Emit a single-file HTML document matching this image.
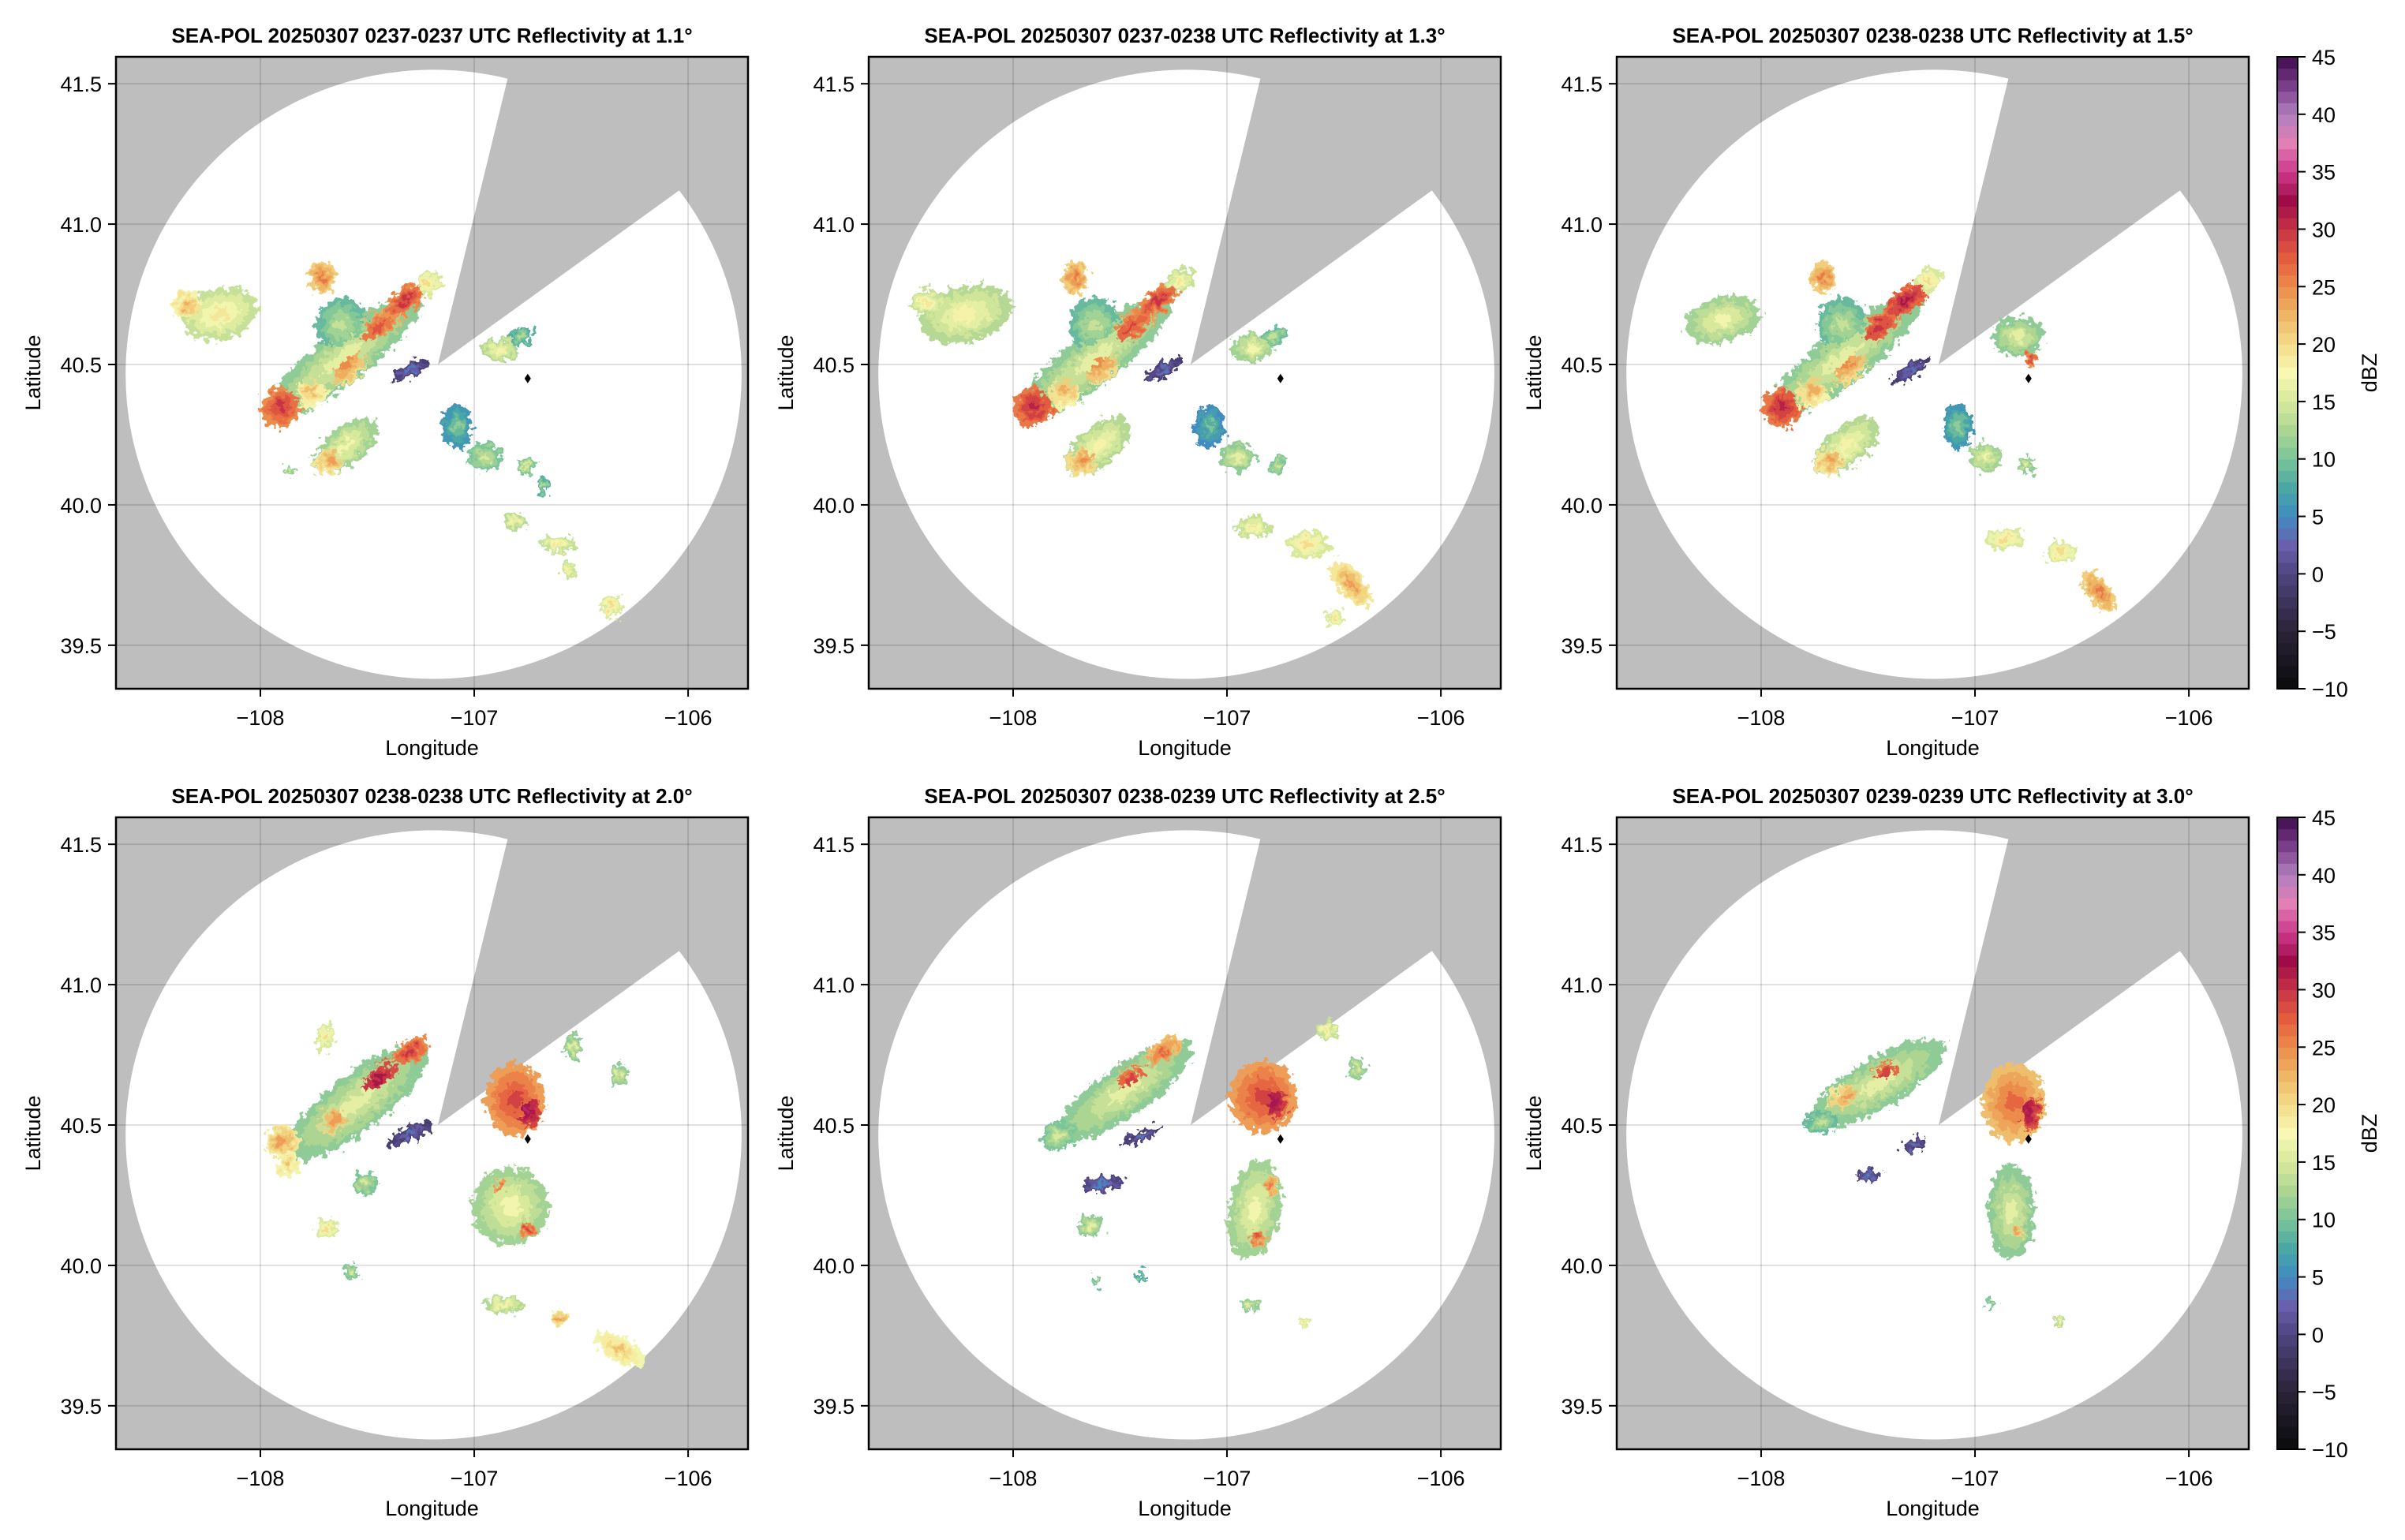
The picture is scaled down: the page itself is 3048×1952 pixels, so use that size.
<!DOCTYPE html>
<html><head><meta charset="utf-8">
<style>
html,body{margin:0;padding:0;background:#fff;}
svg{display:block;}
text{font-family:"Liberation Sans",sans-serif;fill:#000;}
</style></head>
<body>
<svg id="fig" xmlns="http://www.w3.org/2000/svg" width="3048" height="1952" viewBox="0 0 3048 1952">
<defs>
<filter id="rough" x="-30%" y="-30%" width="160%" height="160%">
<feTurbulence type="fractalNoise" baseFrequency="0.12" numOctaves="3" seed="5" result="n"/>
<feDisplacementMap in="SourceGraphic" in2="n" scale="22" xChannelSelector="R" yChannelSelector="G"/>
</filter>
</defs>
</svg>
<script>
// ---- data ----
const panelTitles = [
 "SEA-POL 20250307 0237-0237 UTC Reflectivity at 1.1°",
 "SEA-POL 20250307 0237-0238 UTC Reflectivity at 1.3°",
 "SEA-POL 20250307 0238-0238 UTC Reflectivity at 1.5°",
 "SEA-POL 20250307 0238-0238 UTC Reflectivity at 2.0°",
 "SEA-POL 20250307 0238-0239 UTC Reflectivity at 2.5°",
 "SEA-POL 20250307 0239-0239 UTC Reflectivity at 3.0°"];
const lonTicks = [-108, -107, -106];
const latTicks = [39.5, 40.0, 40.5, 41.0, 41.5];
const cbarTicks = [-10, -5, 0, 5, 10, 15, 20, 25, 30, 35, 40, 45];
const lonRange = [-108.675, -105.72];
const latRange = [39.345, 41.596];
const dbzRange = [-10, 45];
const radarCenter = [-107.19, 40.465];
const radarRadius = [1.44, 1.085];
const wedgeApex = [-107.17, 40.50];
const wedgeRay1 = [-106.84, 41.53];
const wedgeRay2 = [-106.06, 41.11];
const siteMarker = [-106.75, 40.45];
// blobs: [lon, lat, rxDeg, ryDeg, angle, dBZ]
const echoes1 = [
 [-107.62,40.52,0.46,0.09,-38,14],[-107.90,40.35,0.10,0.07,-40,28],[-107.76,40.41,0.10,0.06,-40,20],
 [-107.60,40.50,0.14,0.06,-40,23],[-107.45,40.63,0.15,0.05,-38,26],[-107.32,40.73,0.13,0.04,-35,28],
 [-107.22,40.79,0.07,0.04,-35,18],[-108.19,40.68,0.18,0.09,-15,17],[-108.34,40.71,0.07,0.05,0,21],
 [-107.71,40.81,0.06,0.06,0,24],[-107.62,40.64,0.12,0.10,0,12],[-107.30,40.48,0.10,0.025,-30,2],
 [-106.88,40.55,0.09,0.04,0,16],[-106.78,40.60,0.06,0.03,-20,11],[-107.60,40.21,0.18,0.07,-40,15],
 [-107.67,40.16,0.08,0.05,-40,22],[-107.08,40.28,0.07,0.08,0,9],[-106.95,40.17,0.08,0.05,0,13],
 [-106.76,40.14,0.04,0.03,0,13],[-106.68,40.07,0.03,0.03,0,11],[-106.81,39.94,0.05,0.03,0,16],
 [-106.61,39.86,0.08,0.03,0,17],[-106.56,39.77,0.04,0.03,0,17],[-106.36,39.64,0.05,0.04,-40,18],
 [-107.87,40.12,0.02,0.02,0,14]];
const echoes2 = [
 [-107.62,40.52,0.46,0.09,-38,14],[-107.90,40.35,0.10,0.07,-40,29],[-107.76,40.41,0.10,0.06,-40,21],
 [-107.60,40.50,0.14,0.06,-40,23],[-107.45,40.63,0.15,0.05,-38,27],[-107.32,40.73,0.13,0.04,-35,28],
 [-107.22,40.80,0.07,0.04,-35,17],[-108.22,40.68,0.22,0.10,-15,16],[-108.40,40.72,0.08,0.05,0,17],
 [-107.71,40.81,0.06,0.06,0,24],[-107.62,40.64,0.12,0.10,0,12],[-107.30,40.48,0.10,0.025,-30,2],
 [-106.88,40.56,0.10,0.05,0,15],[-106.78,40.60,0.06,0.03,-20,12],[-107.60,40.21,0.18,0.07,-40,16],
 [-107.67,40.16,0.08,0.05,-40,23],[-107.08,40.28,0.07,0.08,0,8],[-106.95,40.17,0.08,0.05,0,14],
 [-106.76,40.14,0.04,0.03,0,13],[-106.88,39.92,0.08,0.04,0,17],[-106.62,39.86,0.10,0.05,0,18],
 [-106.42,39.72,0.06,0.10,-40,22],[-106.50,39.60,0.04,0.03,0,18]];
const echoes3 = [
 [-107.62,40.52,0.46,0.09,-38,14],[-107.90,40.35,0.10,0.07,-40,29],[-107.76,40.41,0.10,0.06,-40,21],
 [-107.60,40.50,0.14,0.06,-40,23],[-107.45,40.63,0.15,0.05,-38,28],[-107.32,40.73,0.13,0.04,-35,30],
 [-107.22,40.80,0.07,0.04,-35,18],[-108.18,40.66,0.18,0.08,-15,15],[-107.71,40.81,0.06,0.06,0,24],
 [-107.62,40.64,0.12,0.10,0,12],[-107.30,40.48,0.10,0.025,-30,2],[-106.80,40.60,0.12,0.07,0,14],
 [-106.74,40.52,0.03,0.03,0,28],[-107.60,40.21,0.18,0.07,-40,16],[-107.67,40.16,0.08,0.05,-40,22],
 [-107.08,40.28,0.07,0.08,0,9],[-106.95,40.17,0.08,0.05,0,15],[-106.76,40.14,0.04,0.03,0,14],
 [-106.86,39.88,0.09,0.04,0,18],[-106.60,39.83,0.07,0.04,0,18],[-106.42,39.69,0.05,0.09,-40,24]];
const echoes4 = [
 [-107.55,40.58,0.42,0.10,-38,14],[-107.45,40.66,0.15,0.05,-38,30],[-107.30,40.76,0.10,0.04,-35,28],
 [-107.65,40.52,0.12,0.06,-40,22],[-107.90,40.44,0.08,0.06,-40,22],[-107.30,40.47,0.12,0.025,-25,2],
 [-107.51,40.29,0.06,0.04,0,13],[-107.69,40.13,0.05,0.04,0,18],[-107.57,39.98,0.04,0.03,0,13],
 [-107.87,40.36,0.05,0.05,0,20],[-107.70,40.81,0.04,0.05,0,18],[-106.81,40.59,0.14,0.13,0,27],
 [-106.75,40.55,0.06,0.06,0,32],[-106.83,40.21,0.18,0.14,0,15],[-106.75,40.13,0.04,0.03,0,27],
 [-106.88,40.28,0.03,0.03,0,25],[-106.54,40.78,0.04,0.05,0,14],[-106.32,40.68,0.04,0.04,0,14],
 [-106.86,39.86,0.10,0.03,0,16],[-106.60,39.81,0.04,0.03,0,22],[-106.32,39.70,0.06,0.10,-60,20]];
const echoes5 = [
 [-107.48,40.62,0.38,0.09,-35,14],[-107.45,40.66,0.12,0.05,-38,27],[-107.30,40.76,0.10,0.04,-35,25],
 [-107.79,40.46,0.08,0.05,-20,13],[-107.58,40.29,0.10,0.025,-10,3],[-107.40,40.46,0.10,0.02,-20,2],
 [-106.83,40.60,0.16,0.13,0,27],[-106.78,40.58,0.07,0.07,0,31],[-106.53,40.84,0.05,0.04,0,17],
 [-106.39,40.70,0.04,0.04,0,14],[-106.87,40.20,0.12,0.18,10,15],[-106.86,40.10,0.05,0.03,0,26],
 [-106.80,40.28,0.04,0.04,0,24],[-107.61,39.94,0.02,0.02,0,12],[-107.40,39.96,0.02,0.02,0,10],
 [-106.89,39.86,0.05,0.02,0,14],[-106.64,39.80,0.03,0.02,0,18],[-107.64,40.14,0.06,0.04,0,14]];
const echoes6 = [
 [-107.45,40.65,0.36,0.09,-30,14],[-107.42,40.68,0.12,0.05,-30,27],[-107.60,40.60,0.10,0.05,-30,22],
 [-107.72,40.51,0.08,0.04,0,12],[-107.50,40.32,0.06,0.02,0,3],[-107.29,40.43,0.06,0.02,-20,2],
 [-106.82,40.58,0.15,0.14,0,25],[-106.75,40.55,0.06,0.07,0,31],[-106.83,40.19,0.11,0.17,0,14],
 [-106.80,40.12,0.04,0.03,0,22],[-106.93,39.86,0.02,0.02,0,12],[-106.60,39.79,0.02,0.02,0,16]];
const allEchoes = [echoes1, echoes2, echoes3, echoes4, echoes5, echoes6];

// ---- layout ----
const NS = "http://www.w3.org/2000/svg";
const svg = document.getElementById('fig');
const colX = [147, 1101, 2049], rowY = [72, 1036];
const PW = 801, PH = 801;
const cmapStops = [[-10,'#0a0a0c'],[-5,'#2b2338'],[0,'#4f4580'],[2.5,'#6a5fad'],[5,'#3f8cc1'],[7.5,'#4aa7a4'],
 [10,'#7ac59a'],[12.5,'#acd592'],[15,'#d8e99b'],[17.5,'#f8f8b2'],[20,'#f3dc8a'],[22.5,'#eeb665'],
 [25,'#ec8c4c'],[27.5,'#e35c3e'],[30,'#c73347'],[32.5,'#9e0b48'],[35,'#cc3a8b'],[37.5,'#e27fb4'],
 [40,'#b07fbe'],[42.5,'#7a3d8c'],[45,'#3e0c4c']];
function hex2rgb(h){return [1,3,5].map(i=>parseInt(h.substr(i,2),16));}
function cmap(v){
  v=Math.max(dbzRange[0],Math.min(dbzRange[1],v));
  for(let i=0;i<cmapStops.length-1;i++){
    const [a,ca]=cmapStops[i],[b,cb]=cmapStops[i+1];
    if(v<=b){const t=(v-a)/(b-a),A=hex2rgb(ca),B=hex2rgb(cb);
      return 'rgb('+A.map((x,k)=>Math.round(x+(B[k]-x)*t)).join(',')+')';}
  }
  return cmapStops[cmapStops.length-1][1];
}
function mk(tag, attrs, parent){const e=document.createElementNS(NS,tag);for(const k in attrs)e.setAttribute(k,attrs[k]);(parent||svg).appendChild(e);return e;}

allEchoes.forEach((echoes, p) => {
  const x0 = colX[p%3], y0 = rowY[Math.floor(p/3)];
  const sx = lon => x0 + (lon-lonRange[0])/(lonRange[1]-lonRange[0])*PW;
  const sy = lat => y0 + (latRange[1]-lat)/(latRange[1]-latRange[0])*PH;
  const kx = PW/(lonRange[1]-lonRange[0]), ky = PH/(latRange[1]-latRange[0]);
  const g = mk('g', {});
  
  
  const cid = 'clip'+p;
  const cp = mk('clipPath',{id:cid}, g); mk('rect',{x:x0,y:y0,width:PW,height:PH},cp);
  const plot = mk('g',{'clip-path':'url(#'+cid+')'}, g);
  const bg = mk('rect',{x:x0,y:y0,width:PW,height:PH,fill:'#bebebe'},plot);
  
  
  const circ = mk('ellipse',{cx:sx(radarCenter[0]),cy:sy(radarCenter[1]),rx:radarRadius[0]*kx,ry:radarRadius[1]*ky,fill:'#fff'},plot);
  
  
  const ax=sx(wedgeApex[0]), ay=sy(wedgeApex[1]);
  const ext = (pt)=>{const dx=sx(pt[0])-ax, dy=sy(pt[1])-ay; return (ax+dx*3)+','+(ay+dy*3);};
  const wedge = mk('polygon',{points:ax+','+ay+' '+ext(wedgeRay1)+' '+ext(wedgeRay2),fill:'#bebebe'},plot);
  
  
  lonTicks.forEach(t=>{const l=mk('line',{x1:sx(t),x2:sx(t),y1:y0,y2:y0+PH,stroke:'rgba(0,0,0,0.12)','stroke-width':2},plot);
     });
  latTicks.forEach(t=>{const l=mk('line',{x1:x0,x2:x0+PW,y1:sy(t),y2:sy(t),stroke:'rgba(0,0,0,0.12)','stroke-width':2},plot);
     });
  const eg = mk('g',{filter:'url(#rough)'},plot);
  
  
  [[1,-3],[0.75,-1.5],[0.5,0],[0.25,2]].forEach(([sc,dv])=>{
    echoes.forEach(b=>{
      const cx=sx(b[0]), cy=sy(b[1]);
      const e = mk('ellipse',{cx:cx,cy:cy,rx:b[2]*kx*sc,ry:b[3]*ky*sc,transform:'rotate('+b[4]+' '+cx+' '+cy+')',fill:cmap(b[5]+dv)},eg);
      
      
    });
  });
  const mx=sx(siteMarker[0]), my=sy(siteMarker[1]);
  const mkr = mk('polygon',{points:`${mx},${my-6} ${mx+4},${my} ${mx},${my+6} ${mx-4},${my}`,fill:'#000'},plot);
  
  
  const fr = mk('rect',{x:x0,y:y0,width:PW,height:PH,fill:'none',stroke:'#000','stroke-width':2.5},g);
  
  
  lonTicks.forEach(t=>{
    mk('line',{x1:sx(t),x2:sx(t),y1:y0+PH,y2:y0+PH+10,stroke:'#000','stroke-width':2},g);
    const tx = mk('text',{x:sx(t),y:y0+PH+46,'font-size':27,'text-anchor':'middle'},g);
    tx.textContent = '\u2212'+Math.abs(t);
    
    
  });
  latTicks.forEach(t=>{
    mk('line',{x1:x0-10,x2:x0,y1:sy(t),y2:sy(t),stroke:'#000','stroke-width':2},g);
    const tx = mk('text',{x:x0-18,y:sy(t)+10,'font-size':27,'text-anchor':'end'},g);
    tx.textContent = t.toFixed(1);
    
    
  });
  const xl = mk('text',{x:x0+PW/2,y:y0+PH+84,'font-size':27,'text-anchor':'middle'},g);
  xl.textContent='Longitude';
  
  
  const yl = mk('text',{x:0,y:0,'font-size':27,'text-anchor':'middle',transform:`translate(${x0-96},${y0+PH/2}) rotate(-90)`},g);
  yl.textContent='Latitude';
  
  
  const tt = mk('text',{x:x0+PW/2,y:y0-18,'font-size':26,'font-weight':'bold','text-anchor':'middle'},g);
  tt.textContent = panelTitles[p];
  
  
});

rowY.forEach((y0,r)=>{
  const g = mk('g',{});
  
  
  const cx0=2886, cw=26;
  const n = dbzRange[1]-dbzRange[0];
  const ky = PH/n;
  for(let i=0;i<n;i++){
    const v = dbzRange[0]+i+0.5;
    const rc = mk('rect',{x:cx0,y:y0+PH-(i+1)*ky,width:cw,height:ky+0.6,fill:cmap(v)},g);
    
    
  }
  mk('rect',{x:cx0,y:y0,width:cw,height:PH,fill:'none',stroke:'#000','stroke-width':2},g);
  cbarTicks.forEach(t=>{
    const yy = y0+PH-(t-dbzRange[0])*ky;
    mk('line',{x1:cx0+cw,x2:cx0+cw+10,y1:yy,y2:yy,stroke:'#000','stroke-width':2},g);
    const tx = mk('text',{x:cx0+cw+18,y:yy+10,'font-size':27},g);
    tx.textContent = t<0 ? '\u2212'+Math.abs(t) : String(t);
    
    
  });
  const lb = mk('text',{x:0,y:0,'font-size':27,'text-anchor':'middle',transform:`translate(3012,${y0+PH/2}) rotate(-90)`},g);
  lb.textContent='dBZ';
  
  
});
</script>
</body></html>
